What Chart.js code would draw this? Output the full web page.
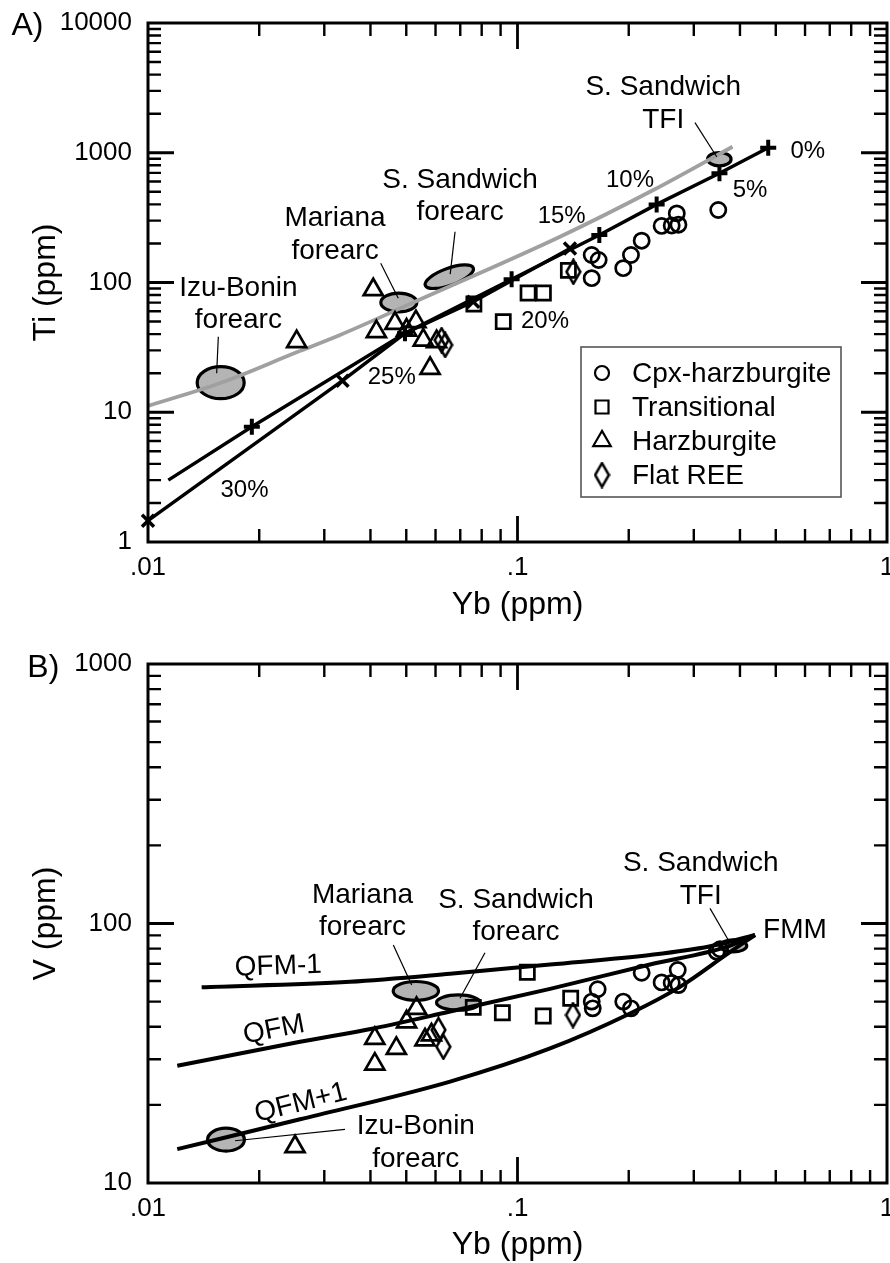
<!DOCTYPE html>
<html>
<head>
<meta charset="utf-8">
<script src="https://cdn.jsdelivr.net/npm/chart.js@4.4.0/dist/chart.umd.min.js"></script>
<style>
html, body { margin: 0; padding: 0; background: #fff; }
#wrap { position: relative; width: 890px; height: 1263px; overflow: hidden; }
#c1 { position: absolute; left: 0; top: 0; }
#c2 { position: absolute; left: 0; top: 632px; }
</style>
</head>
<body>
<div id="wrap">
  <canvas id="c1" width="890" height="632"></canvas>
  <canvas id="c2" width="890" height="631"></canvas>
</div>
<script>
// ---------------- axes / tick labels ----------------
const ybTicks = [0.01, 0.1, 1];
const ybTickLabels = ['.01', '.1', '1'];
const tiTicks = [1, 10, 100, 1000, 10000];
const tiTickLabels = ['1', '10', '100', '1000', '10000'];
const vTicks = [10, 100, 1000];
const vTickLabels = ['10', '100', '1000'];

const seriesNames = ['Cpx-harzburgite', 'Transitional', 'Harzburgite', 'Flat REE'];

// ---------------- Panel A : Ti vs Yb ----------------
const cpxYbA = [0.1588, 0.1658, 0.1588, 0.1933, 0.2028, 0.2168, 0.2455, 0.2614, 0.2726, 0.2698, 0.3494];
const cpxTiA = [163, 149, 108, 129, 163, 210, 273, 275, 279, 341, 362];
const transYbA = [0.1373, 0.1068, 0.1175, 0.0762, 0.0915];
const transTiA = [124, 83, 83, 68.3, 49.9];
const harzYbA = [0.02525, 0.0407, 0.0415, 0.0466, 0.0531, 0.0501, 0.0556, 0.0604, 0.058];
const harzTiA = [35.0, 88, 41.8, 48.5, 49.9, 43.0, 36.0, 35.0, 21.8];
const flatYbA = [0.1416, 0.0623, 0.0637];
const flatTiA = [121, 36.0, 33.0];

// melting model curves (+ markers and x markers)
const meltPlusYb = [0.477, 0.352, 0.238, 0.1665, 0.0964, 0.0496, 0.0191, 0.01135];
const meltPlusTi = [1094, 695, 400, 232, 106, 40.6, 7.74, 3.0];
const meltPlusMarked = [1, 1, 1, 1, 1, 1, 1, 0];
const meltCrossYb = [0.1387, 0.0759, 0.0496, 0.0336, 0.01];
const meltCrossTi = [183, 71, 40.6, 17.5, 1.46];
const meltCrossMarked = [1, 1, 0, 1, 1];

// grey trend curve
const greyYb = [0.01, 0.0157, 0.02525, 0.0331, 0.0533, 0.1303, 0.2331, 0.382];
const greyTi = [11.2, 16.8, 29.0, 39.4, 72, 225, 516, 1113];

// ---------------- Panel B : V vs Yb ----------------
const cpxYbB = [0.346, 0.3533, 0.2168, 0.2714, 0.2455, 0.2614, 0.2726, 0.1648, 0.1588, 0.1598, 0.1933, 0.2028];
const cpxVB = [77.9, 79.6, 64.6, 66.2, 59.3, 59.0, 57.9, 55.8, 50.0, 47.1, 50.0, 47.1];
const transYbB = [0.0759, 0.091, 0.1063, 0.1174, 0.1393];
const transVB = [47.5, 45.3, 64.9, 44.0, 51.5];
const harzYbB = [0.025, 0.0411, 0.0411, 0.047, 0.0501, 0.0533, 0.0562, 0.0585];
const harzVB = [13.8, 36.1, 28.7, 33.0, 41.8, 47.1, 35.6, 37.2];
const flatYbB = [0.0611, 0.063, 0.1413];
const flatVB = [38.9, 33.5, 44.4];

// oxygen fugacity melting curves
const qfmM1Yb = [0.01397, 0.0352, 0.0657, 0.1225, 0.2284, 0.33, 0.4394];
const qfmM1V = [56.8, 59.6, 64.0, 69.5, 75.6, 81.5, 90.3];
const qfmYb = [0.012, 0.0258, 0.0411, 0.0657, 0.1225, 0.2284, 0.3682, 0.4394];
const qfmV = [28.3, 35.0, 39.5, 45.8, 56.0, 69.5, 81.3, 90.3];
const qfmP1Yb = [0.012, 0.0258, 0.0657, 0.1225, 0.2016, 0.2753, 0.3682, 0.4394];
const qfmP1V = [13.5, 17.6, 24.6, 33.0, 45.0, 57.0, 76.0, 90.3];

// ---------------- fields (ellipses: major-axis end points, minor/major ratio) ----------------
const fieldsA = [
  { x1: 0.01346, y1: 16.9, x2: 0.01838, y2: 16.9, ratio: 0.70 },   // Izu-Bonin forearc
  { x1: 0.04227, y1: 70.1, x2: 0.0539, y2: 70.1, ratio: 0.56 },    // Mariana forearc
  { x1: 0.0558, y1: 94.2, x2: 0.0766, y2: 130.5, ratio: 0.37 },    // S. Sandwich forearc
  { x1: 0.3240, y1: 892, x2: 0.3820, y2: 892, ratio: 0.62 }        // S. Sandwich TFI
];
const fieldsB = [
  { x1: 0.04565, y1: 55.0, x2: 0.06171, y2: 55.0, ratio: 0.45 },
  { x1: 0.0598, y1: 49.6, x2: 0.08, y2: 49.6, ratio: 0.39 },
  { x1: 0.01436, y1: 14.69, x2: 0.01841, y2: 14.69, ratio: 0.65 },
  { x1: 0.3494, y1: 82, x2: 0.4212, y2: 82, ratio: 0.5 }
];

// ---------------- annotation text (anchored in data units) ----------------
const labelsA = [
  { text: ['S. Sandwich', 'TFI'], x: 0.2480, y: 3194, size: 28 },
  { text: ['0%'], x: 0.6106, y: 1019, size: 24 },
  { text: ['5%'], x: 0.4258, y: 509, size: 24 },
  { text: ['10%'], x: 0.2016, y: 608, size: 24 },
  { text: ['15%'], x: 0.1317, y: 324, size: 24 },
  { text: ['20%'], x: 0.1187, y: 49.9, size: 24 },
  { text: ['25%'], x: 0.04566, y: 18.5, size: 24 },
  { text: ['30%'], x: 0.01825, y: 2.48, size: 24 },
  { text: ['Izu-Bonin', 'forearc'], x: 0.01756, y: 90.7, size: 28 },
  { text: ['Mariana', 'forearc'], x: 0.03208, y: 312, size: 28 },
  { text: ['S. Sandwich', 'forearc'], x: 0.06991, y: 617, size: 28 }
];
const leadersA = [
  [0.3022, 1705, 0.346, 932],
  [0.0155, 38.2, 0.01534, 20.0],
  [0.04264, 140.6, 0.04757, 75.6],
  [0.06776, 246, 0.06575, 116]
];
const labelsB = [
  { text: ['Mariana', 'forearc'], x: 0.03806, y: 128.8, size: 28 },
  { text: ['S. Sandwich', 'forearc'], x: 0.09906, y: 123.2, size: 28 },
  { text: ['S. Sandwich', 'TFI'], x: 0.3133, y: 170.6, size: 28 },
  { text: ['FMM'], x: 0.5636, y: 94.4, size: 28 },
  { text: ['QFM-1'], x: 0.02252, y: 68.2, size: 28, rot: -2 },
  { text: ['QFM'], x: 0.02193, y: 38.9, size: 28, rot: -11 },
  { text: ['QFM+1'], x: 0.02591, y: 20.3, size: 28, rot: -14 },
  { text: ['Izu-Bonin', 'forearc'], x: 0.05306, y: 16.5, size: 28 }
];
const leadersB = [
  [0.04612, 82.6, 0.05172, 57.9],
  [0.08166, 77.2, 0.06991, 51.5],
  [0.3319, 114.4, 0.3719, 86.4],
  [0.03413, 16.1, 0.0172, 14.55]
];

// ---------------- styling ----------------
const FONT = '"Liberation Sans", Arial, Helvetica, sans-serif';
Chart.defaults.font.family = FONT;
Chart.defaults.color = '#000';

const diamondImg = (() => {
  const c = document.createElement('canvas');
  c.width = 17; c.height = 27;
  const g = c.getContext('2d');
  g.strokeStyle = '#000'; g.lineWidth = 2.5; g.lineJoin = 'miter';
  g.beginPath(); g.moveTo(8.5, 1.6); g.lineTo(15.4, 13.5); g.lineTo(8.5, 25.4); g.lineTo(1.6, 13.5); g.closePath(); g.stroke();
  return c;
})();

const markerStyles = [
  { pointStyle: 'circle', radius: 7.6, borderWidth: 2.7 },
  { pointStyle: 'rect', radius: 10, borderWidth: 2.7 },
  { pointStyle: 'triangle', radius: 11, borderWidth: 2.7 },
  { pointStyle: diamondImg, radius: 10, borderWidth: 2.7 }
];

function pts(xs, ys) { return xs.map((v, i) => ({ x: v, y: ys[i] })); }

function sampleSets(xs, ys) {
  return seriesNames.map((name, k) => ({
    label: name,
    data: pts(xs[k], ys[k]),
    showLine: false,
    pointStyle: markerStyles[k].pointStyle,
    pointRadius: markerStyles[k].radius,
    pointBorderWidth: markerStyles[k].borderWidth,
    pointBorderColor: '#000',
    pointBackgroundColor: 'rgba(0,0,0,0)',
    clip: false,
    order: 0
  }));
}

function curveSet(label, xs, ys, color, width, order) {
  return {
    label, data: pts(xs, ys), showLine: true, borderColor: color, borderWidth: width,
    pointRadius: 0, cubicInterpolationMode: 'monotone', clip: false, order
  };
}

function drawTicksFrame(chart) {
  const { ctx, chartArea: a, scales: { x, y } } = chart;
  ctx.save();
  ctx.strokeStyle = '#000';
  ctx.lineCap = 'butt';
  const gen = (min, max) => {
    const out = [];
    for (let e = Math.round(Math.log10(min)); e < Math.round(Math.log10(max)); e++)
      for (let m = 1; m <= 9; m++) out.push({ v: m * Math.pow(10, e), major: m === 1 });
    return out;
  };
  for (const t of gen(x.min, x.max)) {
    const p = x.getPixelForValue(t.v);
    if (p <= a.left + 1 || p >= a.right - 1) continue;
    const L = t.major ? 26 : 13;
    ctx.lineWidth = t.major ? 2.8 : 2.4;
    ctx.beginPath();
    ctx.moveTo(p, a.bottom); ctx.lineTo(p, a.bottom - L);
    ctx.moveTo(p, a.top); ctx.lineTo(p, a.top + L);
    ctx.stroke();
  }
  for (const t of gen(y.min, y.max)) {
    const p = y.getPixelForValue(t.v);
    if (p <= a.top + 1 || p >= a.bottom - 1) continue;
    const L = t.major ? 26 : 13;
    ctx.lineWidth = t.major ? 2.8 : 2.4;
    ctx.beginPath();
    ctx.moveTo(a.left, p); ctx.lineTo(a.left + L, p);
    ctx.moveTo(a.right, p); ctx.lineTo(a.right - L, p);
    ctx.stroke();
  }
  ctx.lineWidth = 3;
  ctx.strokeRect(a.left, a.top, a.right - a.left, a.bottom - a.top);
  ctx.restore();
}

function panelPlugin(cfg) {
  return {
    id: 'panel' + cfg.name,
    beforeDatasetsDraw(chart) {
      const { ctx, scales: { x, y } } = chart;
      ctx.save();
      for (const e of cfg.fields) {
        const x1 = x.getPixelForValue(e.x1), y1 = y.getPixelForValue(e.y1);
        const x2 = x.getPixelForValue(e.x2), y2 = y.getPixelForValue(e.y2);
        const cx = (x1 + x2) / 2, cy = (y1 + y2) / 2;
        const A = Math.hypot(x2 - x1, y2 - y1) / 2;
        const ang = Math.atan2(y2 - y1, x2 - x1);
        const ra = A - 1.5, rb = A * e.ratio - 1.5;
        ctx.beginPath();
        ctx.ellipse(cx, cy, ra, rb, ang, 0, Math.PI * 2);
        ctx.fillStyle = '#b4b4b4';
        ctx.fill();
        ctx.lineWidth = 3.2;
        ctx.strokeStyle = '#000';
        ctx.stroke();
      }
      ctx.restore();
    },
    afterDatasetsDraw(chart) {
      const { ctx, chartArea: a, scales: { x, y } } = chart;
      drawTicksFrame(chart);
      ctx.save();
      // leader lines
      ctx.strokeStyle = '#000';
      ctx.lineWidth = 1.2;
      for (const L of cfg.leaders) {
        ctx.beginPath();
        ctx.moveTo(x.getPixelForValue(L[0]), y.getPixelForValue(L[1]));
        ctx.lineTo(x.getPixelForValue(L[2]), y.getPixelForValue(L[3]));
        ctx.stroke();
      }
      // labels
      ctx.fillStyle = '#000';
      ctx.textAlign = 'center';
      ctx.textBaseline = 'middle';
      for (const lb of cfg.labels) {
        const px = x.getPixelForValue(lb.x), py = y.getPixelForValue(lb.y);
        ctx.save();
        ctx.translate(px, py);
        if (lb.rot) ctx.rotate(lb.rot * Math.PI / 180);
        ctx.font = lb.size + 'px ' + FONT;
        lb.text.forEach((t, i) => ctx.fillText(t, 0, i * 32.5));
        ctx.restore();
      }
      // legend
      if (cfg.legend) {
        const left = a.left + 433, top = a.top + 324, w = 260, h = 150;
        ctx.lineWidth = 1.6;
        ctx.strokeStyle = '#555';
        ctx.strokeRect(left, top, w, h);
        ctx.textAlign = 'left';
        ctx.font = '28px ' + FONT;
        seriesNames.forEach((name, k) => {
          const cy = top + 26 + k * 34;
          ctx.strokeStyle = '#000';
          ctx.fillStyle = 'rgba(0,0,0,0)';
          ctx.lineWidth = 2.2;
          Chart.helpers.drawPoint(ctx, {
            pointStyle: markerStyles[k].pointStyle,
            radius: markerStyles[k].radius * 0.92,
            rotation: 0,
            borderWidth: 2.2
          }, left + 21, cy);
          ctx.fillStyle = '#000';
          ctx.fillText(name, left + 51, cy + 1);
        });
      }
      ctx.restore();
    },
    afterDraw(chart) {
      const { ctx } = chart;
      ctx.save();
      ctx.fillStyle = '#000';
      ctx.font = '32px ' + FONT;
      ctx.textAlign = 'center';
      ctx.textBaseline = 'middle';
      ctx.fillText(cfg.panelLabel, cfg.panelX, cfg.panelY);
      ctx.restore();
    }
  };
}

function makeScales(yMin, yMax, yTickVals, yTickLbls, yTitle, xHeight, xTitlePad) {
  return {
    x: {
      type: 'logarithmic', position: 'bottom', min: 0.01, max: 1,
      afterBuildTicks: s => { s.ticks = ybTicks.map(v => ({ value: v })); },
      afterFit: s => { s.height = xHeight; s.paddingLeft = 0; s.paddingRight = 0; },
      grid: { display: false, drawTicks: false },
      border: { display: false },
      ticks: {
        autoSkip: false, maxRotation: 0, padding: 10, color: '#000',
        font: { size: 26, family: FONT },
        callback: (v, i) => ybTickLabels[i]
      },
      title: {
        display: true, text: 'Yb (ppm)', color: '#000',
        font: { size: 32, family: FONT, lineHeight: 1 },
        padding: { top: 0, bottom: xTitlePad }
      }
    },
    y: {
      type: 'logarithmic', position: 'left', min: yMin, max: yMax,
      afterBuildTicks: s => { s.ticks = yTickVals.map(v => ({ value: v })); },
      afterFit: s => { s.width = 148; s.paddingTop = 0; s.paddingBottom = 0; },
      grid: { display: false, drawTicks: false },
      border: { display: false },
      ticks: {
        autoSkip: false, padding: 16, color: '#000',
        font: { size: 26, family: FONT },
        callback: (v, i) => yTickLbls[i]
      },
      title: {
        display: true, text: yTitle, color: '#000',
        font: { size: 32, family: FONT, lineHeight: 1 },
        padding: { top: 30, bottom: 0 }
      }
    }
  };
}

const commonOpts = {
  responsive: false,
  animation: false,
  events: [],
  plugins: { legend: { display: false }, tooltip: { enabled: false } }
};

// ---------------- Chart A ----------------
new Chart(document.getElementById('c1'), {
  type: 'scatter',
  data: {
    datasets: [
      ...sampleSets([cpxYbA, transYbA, harzYbA, flatYbA], [cpxTiA, transTiA, harzTiA, flatTiA]),
      {
        label: 'melt +', data: pts(meltPlusYb, meltPlusTi), showLine: true,
        borderColor: '#000', borderWidth: 3.4, tension: 0,
        pointStyle: 'cross', pointRadius: c => meltPlusMarked[c.dataIndex] ? 8 : 0,
        pointBorderWidth: 4, pointBorderColor: '#000', pointBackgroundColor: '#000',
        clip: false, order: 1
      },
      {
        label: 'melt x', data: pts(meltCrossYb, meltCrossTi), showLine: true,
        borderColor: '#000', borderWidth: 3.4, tension: 0,
        pointStyle: 'crossRot', pointRadius: c => meltCrossMarked[c.dataIndex] ? 8.5 : 0,
        pointBorderWidth: 3.5, pointBorderColor: '#000', pointBackgroundColor: '#000',
        clip: false, order: 1
      },
      curveSet('grey trend', greyYb, greyTi, '#a0a0a0', 3.8, 2)
    ]
  },
  options: {
    ...commonOpts,
    layout: { autoPadding: false, padding: { left: 0, top: 23, right: 3, bottom: 0 } },
    scales: makeScales(1, 10000, tiTicks, tiTickLabels, 'Ti (ppm)', 90, 11)
  },
  plugins: [panelPlugin({
    name: 'A', fields: fieldsA, labels: labelsA, leaders: leadersA, legend: true,
    panelLabel: 'A)', panelX: 27.5, panelY: 26
  })]
});

// ---------------- Chart B ----------------
new Chart(document.getElementById('c2'), {
  type: 'scatter',
  data: {
    datasets: [
      ...sampleSets([cpxYbB, transYbB, harzYbB, flatYbB], [cpxVB, transVB, harzVB, flatVB]),
      curveSet('QFM-1', qfmM1Yb, qfmM1V, '#000', 4, 1),
      curveSet('QFM', qfmYb, qfmV, '#000', 4, 1),
      curveSet('QFM+1', qfmP1Yb, qfmP1V, '#000', 4, 1)
    ]
  },
  options: {
    ...commonOpts,
    layout: { autoPadding: false, padding: { left: 0, top: 32, right: 3, bottom: 0 } },
    scales: makeScales(10, 1000, vTicks, vTickLabels, 'V (ppm)', 80, 1.5)
  },
  plugins: [panelPlugin({
    name: 'B', fields: fieldsB, labels: labelsB, leaders: leadersB, legend: false,
    panelLabel: 'B)', panelX: 43.3, panelY: 36
  })]
});
</script>
</body>
</html>
